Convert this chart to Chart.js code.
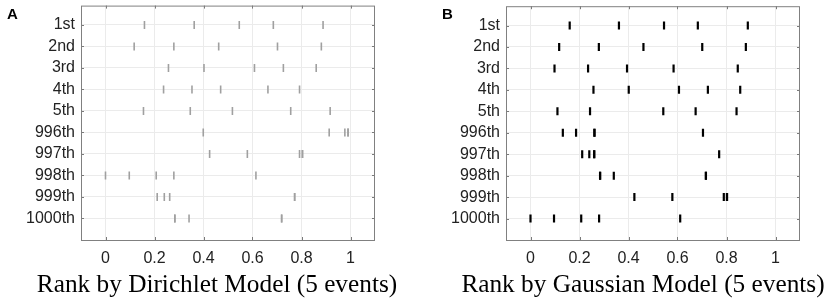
<!DOCTYPE html>
<html>
<head>
<meta charset="utf-8">
<script src="https://cdn.jsdelivr.net/npm/chart.js@4.4.1/dist/chart.umd.min.js"></script>
<style>
  body { margin: 0; background: #fff; width: 829px; height: 299px; overflow: hidden; position: relative; }
  .panel { position: absolute; top: 0; width: 400px; height: 299px; }
  .tag { position: absolute; top: 5px; font: bold 15px "Liberation Sans", Arial, sans-serif; color: #000; }
  .xtitle { position: absolute; top: 269px; width: 420px; text-align: center; line-height: 25px;
            font: 25.3px "Liberation Serif", "Times New Roman", serif; color: #000; white-space: nowrap; }
</style>
</head>
<body>
<div class="panel" style="left:0"><canvas id="chartA" width="400" height="299"></canvas></div>
<div class="panel" style="left:425px"><canvas id="chartB" width="400" height="299"></canvas></div>
<div class="tag" style="left:7px">A</div>
<div class="tag" style="left:442px">B</div>
<div class="xtitle" id="titleA" style="left:7px"></div>
<div class="xtitle" id="titleB" style="left:433px"></div>

<script>
const categories = ["1st", "2nd", "3rd", "4th", "5th", "996th", "997th", "998th", "999th", "1000th"];
const xTicks = [0, 0.2, 0.4, 0.6, 0.8, 1];
const titles = ["Rank by Dirichlet Model (5 events)", "Rank by Gaussian Model (5 events)"];

// normalised rank of the 5 events, one row per category
const dirichletRanks = [
  [0.159, 0.362, 0.546, 0.685, 0.888],
  [0.117, 0.279, 0.462, 0.702, 0.881],
  [0.257, 0.402, 0.608, 0.726, 0.860],
  [0.237, 0.353, 0.470, 0.663, 0.792],
  [0.155, 0.346, 0.518, 0.756, 0.917],
  [0.399, 0.913, 0.977, 0.990, 0.990],
  [0.425, 0.579, 0.792, 0.804, 0.804],
  [0.000, 0.097, 0.207, 0.279, 0.614],
  [0.211, 0.240, 0.262, 0.772, 0.772],
  [0.283, 0.283, 0.341, 0.719, 0.719]
];
const gaussianRanks = [
  [0.160, 0.361, 0.545, 0.683, 0.887],
  [0.117, 0.279, 0.461, 0.701, 0.879],
  [0.098, 0.235, 0.394, 0.584, 0.846],
  [0.257, 0.401, 0.606, 0.724, 0.856],
  [0.110, 0.243, 0.542, 0.674, 0.841],
  [0.132, 0.186, 0.261, 0.261, 0.704],
  [0.211, 0.240, 0.260, 0.260, 0.770],
  [0.284, 0.284, 0.340, 0.716, 0.716],
  [0.424, 0.579, 0.789, 0.802, 0.802],
  [0.000, 0.096, 0.207, 0.280, 0.611]
];

document.getElementById("titleA").textContent = titles[0];
document.getElementById("titleB").textContent = titles[1];

// small inward ticks on all four sides, like the matlab box
const innerTicks = {
  id: "innerTicks",
  afterDraw(chart) {
    const { ctx, chartArea: a, scales } = chart;
    ctx.save();
    ctx.strokeStyle = "#7a7a7a";
    ctx.lineWidth = 1;
    ctx.beginPath();
    scales.x.ticks.forEach(t => {
      const px = Math.round(scales.x.getPixelForValue(t.value)) + 0.5;
      ctx.moveTo(px, a.top); ctx.lineTo(px, a.top + 3);
      ctx.moveTo(px, a.bottom); ctx.lineTo(px, a.bottom - 3);
    });
    scales.y.ticks.forEach(t => {
      const py = Math.round(scales.y.getPixelForValue(t.value)) + 0.5;
      ctx.moveTo(a.left, py); ctx.lineTo(a.left + 3, py);
      ctx.moveTo(a.right, py); ctx.lineTo(a.right - 3, py);
    });
    ctx.stroke();
    ctx.strokeStyle = "#808080";
    ctx.strokeRect(a.left + 0.5, a.top + 0.5, a.right - a.left - 1, a.bottom - a.top);
    ctx.restore();
  }
};

function makeChart(id, ranks, color, width) {
  const points = [];
  ranks.forEach((row, i) => row.forEach(v => points.push({ x: v, y: i + 1 })));

  return new Chart(document.getElementById(id), {
    type: "scatter",
    data: {
      datasets: [{
        data: points,
        pointStyle: "line",
        rotation: 90,
        radius: 4,
        hoverRadius: 4,
        borderColor: color,
        backgroundColor: color,
        borderWidth: width
      }]
    },
    options: {
      responsive: false,
      animation: false,
      layout: { padding: { top: 2.4, right: 25, left: 0, bottom: 0 } },
      plugins: { legend: { display: false }, tooltip: { enabled: false } },
      scales: {
        x: {
          type: "linear",
          min: -0.1,
          max: 1.1,
          afterBuildTicks: s => { s.ticks = xTicks.map(v => ({ value: v })); },
          afterFit: s => { s.height = 59; s.paddingLeft = 0; s.paddingRight = 0; },
          grid: { color: "#ebebeb", drawTicks: false },
          border: { display: false },
          ticks: {
            padding: 9,
            color: "#222",
            font: { family: "Liberation Sans", size: 16 },
            maxRotation: 0,
            callback: v => String(v)
          }
        },
        y: {
          type: "linear",
          reverse: true,
          min: 0.1,
          max: 11,
          afterBuildTicks: s => { s.ticks = categories.map((c, i) => ({ value: i + 1 })); },
          afterFit: s => { s.width = 81; s.paddingTop = 0; s.paddingBottom = 0; },
          grid: { color: "#ebebeb", drawTicks: false },
          border: { display: false },
          ticks: {
            padding: 6,
            color: "#222",
            font: { family: "Liberation Sans", size: 16 },
            callback: v => categories[v - 1]
          }
        }
      }
    },
    plugins: [innerTicks]
  });
}

makeChart("chartA", dirichletRanks, "#a0a0a0", 1.6);
makeChart("chartB", gaussianRanks, "#000000", 2.2);
</script>
</body>
</html>
